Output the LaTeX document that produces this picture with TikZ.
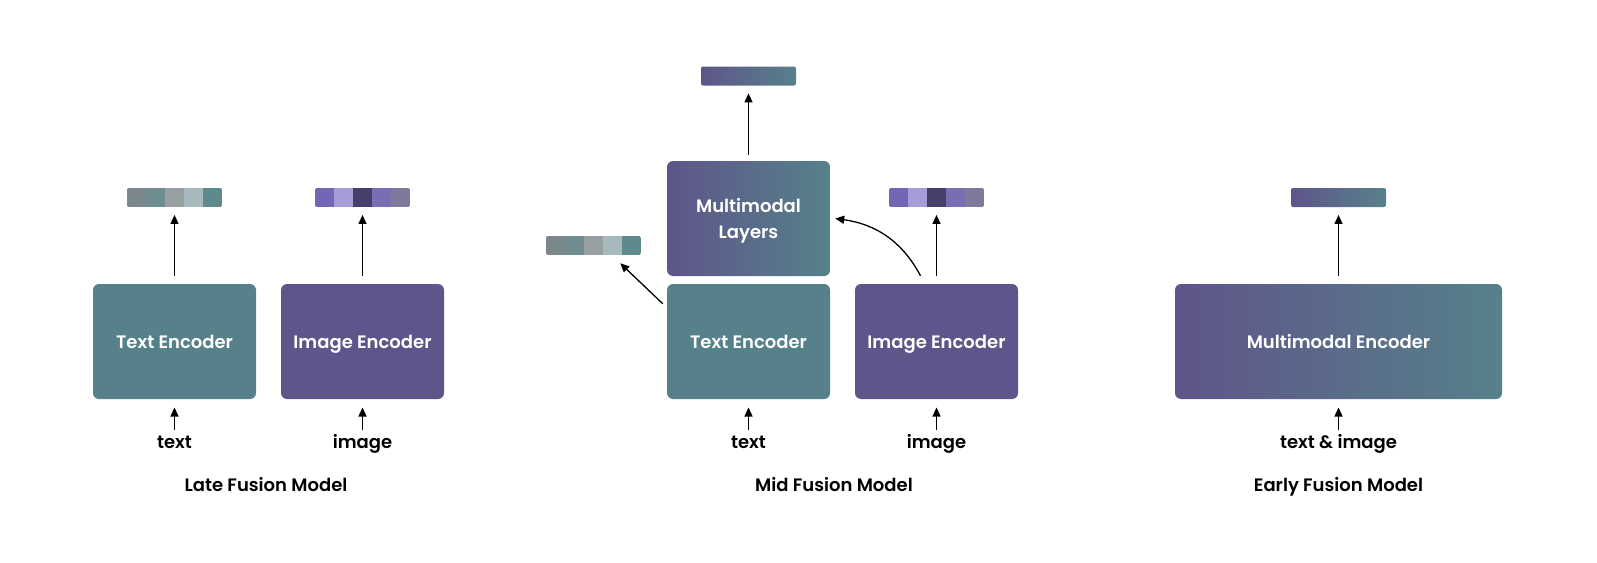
\documentclass[tikz,border=0pt]{standalone}
\usepackage{fontspec}
\setmainfont{Poppins}[BoldFont={Poppins SemiBold}]
\usetikzlibrary{arrows.meta}
\definecolor{tealbox}{HTML}{56818A}
\definecolor{purbox}{HTML}{5E558A}
\definecolor{ta}{HTML}{7A878B}
\definecolor{tb}{HTML}{6F8D90}
\definecolor{tc}{HTML}{989FA1}
\definecolor{td}{HTML}{A6BABD}
\definecolor{te}{HTML}{5E898D}
\definecolor{pa}{HTML}{7466B4}
\definecolor{pb}{HTML}{A49DD6}
\definecolor{pc}{HTML}{463F6A}
\definecolor{pd}{HTML}{7A6DB2}
\definecolor{pe}{HTML}{7F7A9C}
\tikzset{
  x=1pt, y=-1pt,
  encbox/.style={rounded corners=6pt, minimum height=115pt, inner sep=0pt,
    text=white, font=\bfseries\fontsize{18}{25.5}\selectfont, align=center,
    text height=13.6pt, text depth=0pt},
  tealenc/.style={encbox, fill=tealbox, minimum width=163pt},
  purenc/.style={encbox, fill=purbox, minimum width=163pt},
  gradenc/.style={encbox, left color=purbox, right color=tealbox},
  featbar/.style={minimum width=95pt, minimum height=19pt, inner sep=0pt, rounded corners=2pt},
  gradbar/.style={featbar, left color=purbox, right color=tealbox},
  cellbar/.style={featbar, path picture={
    \foreach \c [count=\i from 0] in {#1}
      \fill[\c, sharp corners] ([xshift=\i*19pt]path picture bounding box.north west) rectangle ++(19.4pt,-19pt);}},
  arr/.style={line width=1.3pt, -{Triangle[length=9pt,width=8pt]}},
  lbl/.style={font=\bfseries\fontsize{18}{22}\selectfont, anchor=base, inner sep=0pt},
}
\begin{document}
\begin{tikzpicture}
\useasboundingbox (0,0) rectangle (1597,562);
% ---------- Late fusion ----------
\node[tealenc] (lte) at (174.5,341.5) {Text Encoder};
\node[purenc] (lie) at (362.5,341.5) {Image Encoder};
\node[cellbar={ta,tb,tc,td,te}] (lbt) at (174.5,197.5) {};
\node[cellbar={pa,pb,pc,pd,pe}] (lbi) at (362.5,197.5) {};
\node[lbl] (ltxt) at (174.5,448) {text};
\node[lbl] (limg) at (362.5,448) {image};
\node[lbl] (ltitle) at (266,491) {Late Fusion Model};
\draw[arr, shorten <=7.5pt, shorten >=7.7pt] (lte) -- (lbt);
\draw[arr, shorten <=7.5pt, shorten >=7.7pt] (lie) -- (lbi);
\draw[arr] ([yshift=18pt]ltxt.base) -- ([yshift=-8.3pt]lte.south);
\draw[arr] ([yshift=18pt]limg.base) -- ([yshift=-8.3pt]lie.south);
% ---------- Mid fusion ----------
\node[gradenc, minimum width=163pt, text height=39.1pt, text depth=0pt] (mml) at (748.5,218.5) {Multimodal\\Layers};
\node[tealenc] (mte) at (748.5,341.5) {Text Encoder};
\node[purenc] (mie) at (936.5,341.5) {Image Encoder};
\node[gradbar] (mbo) at (748.5,76) {};
\node[cellbar={ta,tb,tc,td,te}] (mbt) at (593.5,245.5) {};
\node[cellbar={pa,pb,pc,pd,pe}] (mbi) at (936.5,197.5) {};
\node[lbl] (mtxt) at (748.5,448) {text};
\node[lbl] (mimg) at (936.5,448) {image};
\node[lbl] (mtitle) at (834,491) {Mid Fusion Model};
\draw[arr, shorten <=6pt, shorten >=7.7pt] (mml) -- (mbo);
\draw[arr, shorten <=8pt, shorten >=7.7pt] (mie) -- (mbi);
\draw[arr] ([shift={(-16pt,8pt)}]mie.north) to[out=118,in=-8] ([xshift=5pt]mml.east);
\draw[arr] ([shift={(-4pt,-20pt)}]mte.north west) -- ([shift={(-21pt,-8pt)}]mbt.south east);
\draw[arr] ([yshift=18pt]mtxt.base) -- ([yshift=-8.3pt]mte.south);
\draw[arr] ([yshift=18pt]mimg.base) -- ([yshift=-8.3pt]mie.south);
% ---------- Early fusion ----------
\node[gradenc, minimum width=327pt] (eme) at (1338.5,341.5) {Multimodal Encoder};
\node[gradbar] (ebo) at (1338.5,197.5) {};
\node[lbl] (etxt) at (1338.5,448) {text \& image};
\node[lbl] (etitle) at (1338.5,491) {Early Fusion Model};
\draw[arr, shorten <=7.5pt, shorten >=7.7pt] (eme) -- (ebo);
\draw[arr] ([yshift=18pt]etxt.base) -- ([yshift=-8.3pt]eme.south);
\end{tikzpicture}
\end{document}
